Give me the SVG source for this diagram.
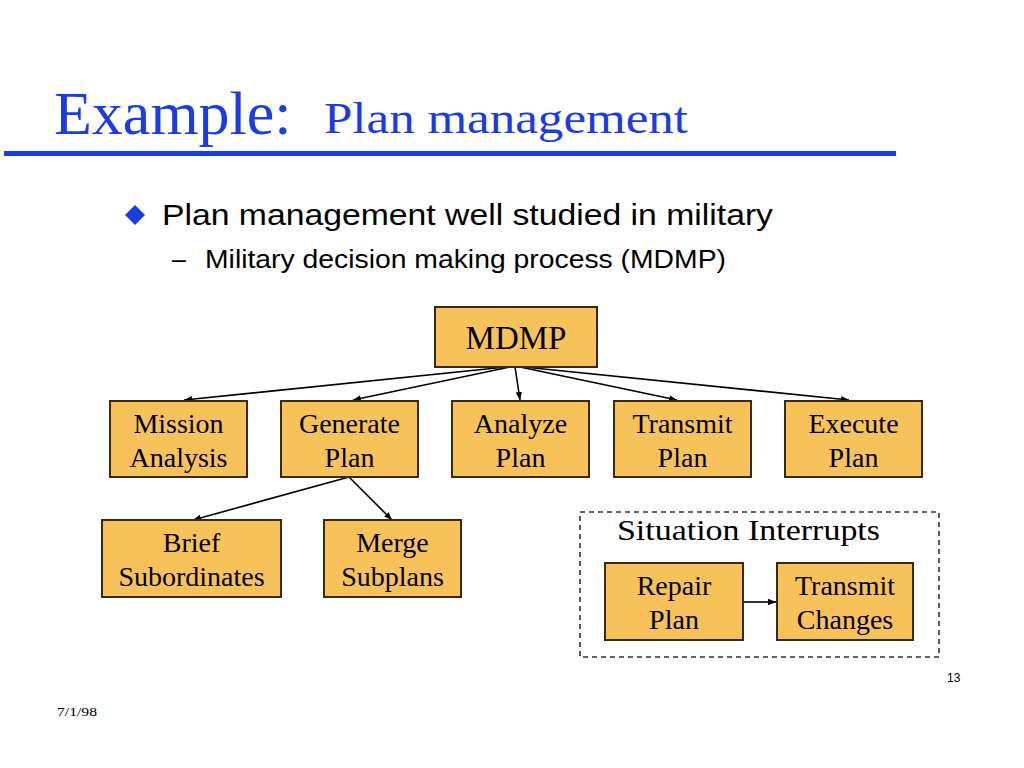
<svg xmlns="http://www.w3.org/2000/svg" width="1024" height="768" viewBox="0 0 1024 768">
<defs>
<marker id="ah" viewBox="0 0 10 10" refX="10" refY="5" markerWidth="8" markerHeight="8" markerUnits="userSpaceOnUse" orient="auto">
<path d="M0,1 L10,5 L0,9 z" fill="#000"/>
</marker>
<style>
.box{fill:#F7C25A;stroke:#3A2A12;stroke-width:2}
.nt{font-family:"Liberation Serif","Times New Roman",serif;font-size:28px;fill:#000;text-anchor:middle}
.cn{stroke:#000;stroke-width:1.6;fill:none;marker-end:url(#ah)}
</style>
</defs>
<rect width="1024" height="768" fill="#fff"/>
<text x="54" y="134" font-family="Liberation Serif,serif" font-size="62" fill="#1A3CE0">Example:</text>
<text x="324" y="133" font-family="Liberation Serif,serif" font-size="45" fill="#1A3CE0" textLength="364" lengthAdjust="spacingAndGlyphs">Plan management</text>
<rect x="4" y="151" width="892" height="5" fill="#1A3CE0"/>
<path d="M125,215 L135,205 L145,215 L135,225 z" fill="#1A3CE0"/>
<text x="162" y="225" font-family="Liberation Sans,Arial,sans-serif" font-size="29" fill="#000" textLength="611" lengthAdjust="spacingAndGlyphs">Plan management well studied in military</text>
<text x="172" y="268" font-family="Liberation Sans,Arial,sans-serif" font-size="25" fill="#000">–</text>
<text x="205" y="268" font-family="Liberation Sans,Arial,sans-serif" font-size="25" fill="#000" textLength="521" lengthAdjust="spacingAndGlyphs">Military decision making process (MDMP)</text>

<g id="connectors">
<line class="cn" x1="506" y1="367" x2="184" y2="400"/>
<line class="cn" x1="510" y1="367" x2="353" y2="400"/>
<line class="cn" x1="515" y1="367" x2="520" y2="400"/>
<line class="cn" x1="520" y1="367" x2="677" y2="400"/>
<line class="cn" x1="524" y1="367" x2="849" y2="400"/>
<line class="cn" x1="349" y1="477" x2="193" y2="520"/>
<line class="cn" x1="349" y1="477" x2="392" y2="520"/>
<line class="cn" x1="744" y1="602" x2="776" y2="602"/>
</g>

<g id="mdmp"><rect class="box" x="435" y="307" width="162" height="60"/><text class="nt" x="516" y="349" style="font-size:33px">MDMP</text></g>
<g id="mission"><rect class="box" x="110" y="401" width="137" height="76"/><text class="nt" x="178.5" y="433">Mission</text><text class="nt" x="178.5" y="467">Analysis</text></g>
<g id="generate"><rect class="box" x="281" y="401" width="137" height="76"/><text class="nt" x="349.5" y="433">Generate</text><text class="nt" x="349.5" y="467">Plan</text></g>
<g id="analyze"><rect class="box" x="452" y="401" width="137" height="76"/><text class="nt" x="520.5" y="433">Analyze</text><text class="nt" x="520.5" y="467">Plan</text></g>
<g id="transmit"><rect class="box" x="614" y="401" width="137" height="76"/><text class="nt" x="682.5" y="433">Transmit</text><text class="nt" x="682.5" y="467">Plan</text></g>
<g id="execute"><rect class="box" x="785" y="401" width="137" height="76"/><text class="nt" x="853.5" y="433">Execute</text><text class="nt" x="853.5" y="467">Plan</text></g>
<g id="brief"><rect class="box" x="102" y="520" width="179" height="77"/><text class="nt" x="191.5" y="552">Brief</text><text class="nt" x="191.5" y="586">Subordinates</text></g>
<g id="merge"><rect class="box" x="324" y="520" width="137" height="77"/><text class="nt" x="392.5" y="552">Merge</text><text class="nt" x="392.5" y="586">Subplans</text></g>

<g id="situation">
<rect x="580" y="512" width="359" height="145" fill="none" stroke="#333" stroke-width="1.6" stroke-dasharray="5,4"/>
<text x="617" y="540" font-family="Liberation Serif,serif" font-size="30" fill="#000" textLength="263" lengthAdjust="spacingAndGlyphs">Situation Interrupts</text>
</g>
<g id="repair"><rect class="box" x="605" y="563" width="138" height="77"/><text class="nt" x="674" y="595">Repair</text><text class="nt" x="674" y="629">Plan</text></g>
<g id="tchanges"><rect class="box" x="777" y="563" width="136" height="77"/><text class="nt" x="845" y="595">Transmit</text><text class="nt" x="845" y="629">Changes</text></g>

<text x="947" y="682" font-family="Liberation Sans,Arial,sans-serif" font-size="12" fill="#000">13</text>
<text x="57" y="716" font-family="Liberation Serif,serif" font-size="12" fill="#000" textLength="40" lengthAdjust="spacingAndGlyphs">7/1/98</text>
</svg>
